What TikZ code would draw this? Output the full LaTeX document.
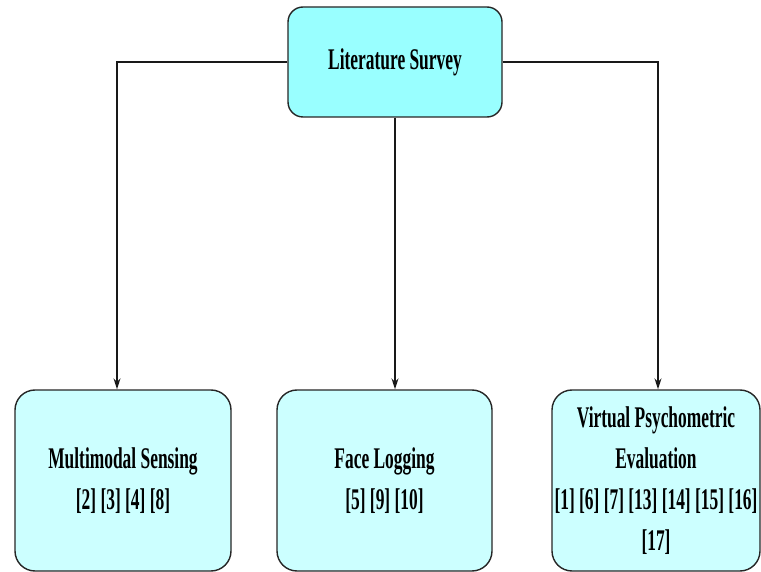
\documentclass[tikz,border=0pt]{standalone}
\usepackage{fontspec}
\setmainfont{Liberation Serif}[FakeStretch=0.58]
\usetikzlibrary{arrows.meta}
\definecolor{topfill}{HTML}{99FFFF}
\definecolor{subfill}{HTML}{CCFFFF}
\tikzset{
  boxbase/.style={draw=black!85, line width=1.4pt, align=center,
    font=\fontsize{30}{41}\selectfont\bfseries, inner sep=0pt},
  rootbox/.style={boxbase, fill=topfill, rounded corners=15pt,
    minimum width=214pt, minimum height=110pt},
  leafbox/.style={boxbase, fill=subfill, rounded corners=20pt,
    minimum width=#1, minimum height=181pt},
  link/.style={draw=black!90, line width=1.3pt,
    -{Stealth[length=11pt,width=7pt]}}
}
\begin{document}
\begin{tikzpicture}[x=1pt,y=-1pt]
  \useasboundingbox (0,0) rectangle (761,572);

  % root of the survey tree
  \node[rootbox] (root) at (395,62) {Literature Survey};

  % the three topic groups
  \node[leafbox=216pt] (ms) at (123,480.5) {Multimodal Sensing\\{}[2] [3] [4] [8]};
  \node[leafbox=215pt] (fl) at (384.5,480.5) {Face Logging\\{}[5] [9] [10]};
  \node[leafbox=208pt] (vp) at (656,480.5)
    {Virtual Psychometric\\Evaluation\\{}[1] [6] [7] [13] [14] [15] [16]\\{}[17]};

  % connectors from the root to each group
  \draw[link] (root.west) -| ([xshift=-6pt]ms.north);
  \draw[link] (root.south) -- (root.south |- fl.north);
  \draw[link] (root.east) -| ([xshift=2pt]vp.north);
\end{tikzpicture}
\end{document}
